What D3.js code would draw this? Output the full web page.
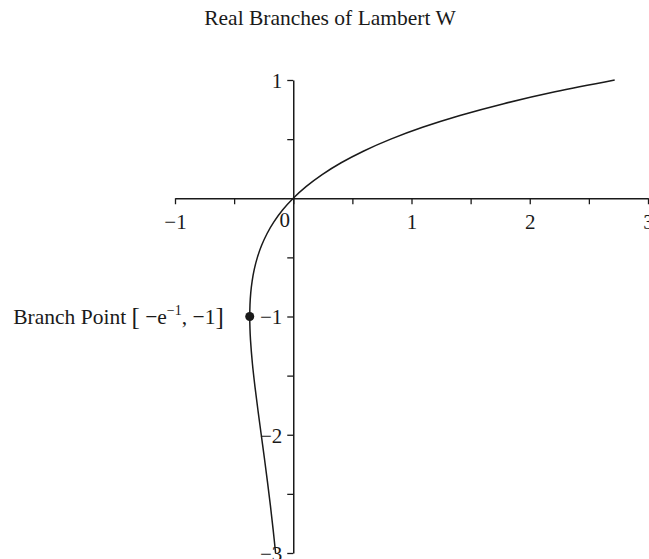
<!DOCTYPE html>
<html>
<head>
<meta charset="utf-8">
<script src="https://cdn.jsdelivr.net/npm/d3@7"></script>
<style>
  html, body { margin: 0; padding: 0; background: #fff; }
  svg { display: block; }
  text { font-family: "Liberation Serif", "Times New Roman", serif; fill: #1a1a1a; }
</style>
</head>
<body>
<svg id="chart" width="649" height="559"></svg>
<script>
// W values (vertical) and the matching arguments x = W·e^W (horizontal)
const wValues = [-3.0, -2.8, -2.6, -2.4, -2.2, -2.0, -1.8, -1.6, -1.4, -1.2, -1.1, -1.0,
  -0.9, -0.8, -0.7, -0.6, -0.5, -0.4, -0.3, -0.2, -0.1, 0.0,
  0.1, 0.2, 0.3, 0.4, 0.5, 0.6, 0.7, 0.8, 0.9, 1.0];
const xValues = [-0.14936, -0.17027, -0.19311, -0.21772, -0.24377, -0.27067, -0.29754, -0.32303,
  -0.34524, -0.36143, -0.36616, -0.36788, -0.36591, -0.35946, -0.34761, -0.32929, -0.30327,
  -0.26813, -0.22225, -0.16375, -0.09048, 0.0,
  0.11052, 0.24428, 0.40496, 0.59673, 0.82436, 1.09327, 1.40963, 1.78043, 2.21364, 2.71828];

const branchPoint = [-0.36788, -1.0];

const xTicks = [-1, -0.5, 0, 0.5, 1, 1.5, 2, 2.5, 3];
const xTickLabels = ["−1", "", "0", "", "1", "", "2", "", "3"];
const yTicks = [-3, -2.5, -2, -1.5, -1, -0.5, 0, 0.5, 1];
const yTickLabels = ["−3", "", "−2", "", "−1", "", "", "", "1"];

const titleText = "Real Branches of Lambert W";

const svg = d3.select("#chart");
const x = d3.scaleLinear().domain([-1, 3]).range([175, 648]);
const y = d3.scaleLinear().domain([-3, 1]).range([553, 80]);

const ink = "#1a1a1a";

// title
svg.append("text")
  .attr("x", 330).attr("y", 25)
  .attr("text-anchor", "middle")
  .style("font-size", "21.5px")
  .text(titleText);

// horizontal axis through y = 0
const xAxis = d3.axisBottom(x)
  .tickValues(xTicks)
  .tickSize(6)
  .tickSizeOuter(0)
  .tickFormat((d, i) => xTickLabels[i]);
const gx = svg.append("g").attr("transform", `translate(0,${y(0)})`).call(xAxis);
gx.select(".domain").attr("stroke", ink).attr("stroke-width", 1.5);
gx.selectAll(".tick line").attr("stroke", ink).attr("stroke-width", 1.3);
gx.selectAll(".tick text")
  .attr("y", (d) => d === 0 ? 29 : 31)
  .attr("dy", "0")
  .attr("dx", (d) => d === 0 ? -9 : 0)
  .style("font-size", "21px")
  .attr("fill", ink);

// vertical axis through x = 0
const yAxis = d3.axisLeft(y)
  .tickValues(yTicks)
  .tickSize(6)
  .tickSizeOuter(0)
  .tickFormat((d, i) => yTickLabels[i]);
const gy = svg.append("g").attr("transform", `translate(${x(0)},0)`).call(yAxis);
gy.select(".domain").attr("stroke", ink).attr("stroke-width", 1.5);
gy.selectAll(".tick line").attr("stroke", ink).attr("stroke-width", 1.3)
  .style("display", (d) => d === 0 ? "none" : null);
gy.selectAll(".tick text")
  .attr("x", -11)
  .attr("dy", "0.35em")
  .style("font-size", "21px")
  .attr("fill", ink);

// the curve W(x) on both real branches
const pts = wValues.map((w, i) => [xValues[i], w]);
const line = d3.line()
  .x((d) => x(d[0]))
  .y((d) => y(d[1]))
  .curve(d3.curveCatmullRom.alpha(0.5));
svg.append("path")
  .datum(pts)
  .attr("d", line)
  .attr("fill", "none")
  .attr("stroke", ink)
  .attr("stroke-width", 1.5);

// branch point marker
svg.append("circle")
  .attr("cx", x(branchPoint[0]))
  .attr("cy", y(branchPoint[1]))
  .attr("r", 4.5)
  .attr("fill", ink);

// branch point label
const lbl = svg.append("text")
  .attr("x", x(branchPoint[0]) - 26)
  .attr("y", y(branchPoint[1]) + 7)
  .attr("text-anchor", "end")
  .style("font-size", "21.5px");
lbl.append("tspan").text("Branch Point ");
lbl.append("tspan").style("font-size", "25px").attr("dy", 1).text("[");
lbl.append("tspan").attr("dy", -1).text("  −e");
lbl.append("tspan").style("font-size", "14px").attr("dy", -9).text("−1");
lbl.append("tspan").attr("dy", 9).text(",  −1");
lbl.append("tspan").style("font-size", "25px").attr("dy", 1).text("]");
</script>
</body>
</html>
